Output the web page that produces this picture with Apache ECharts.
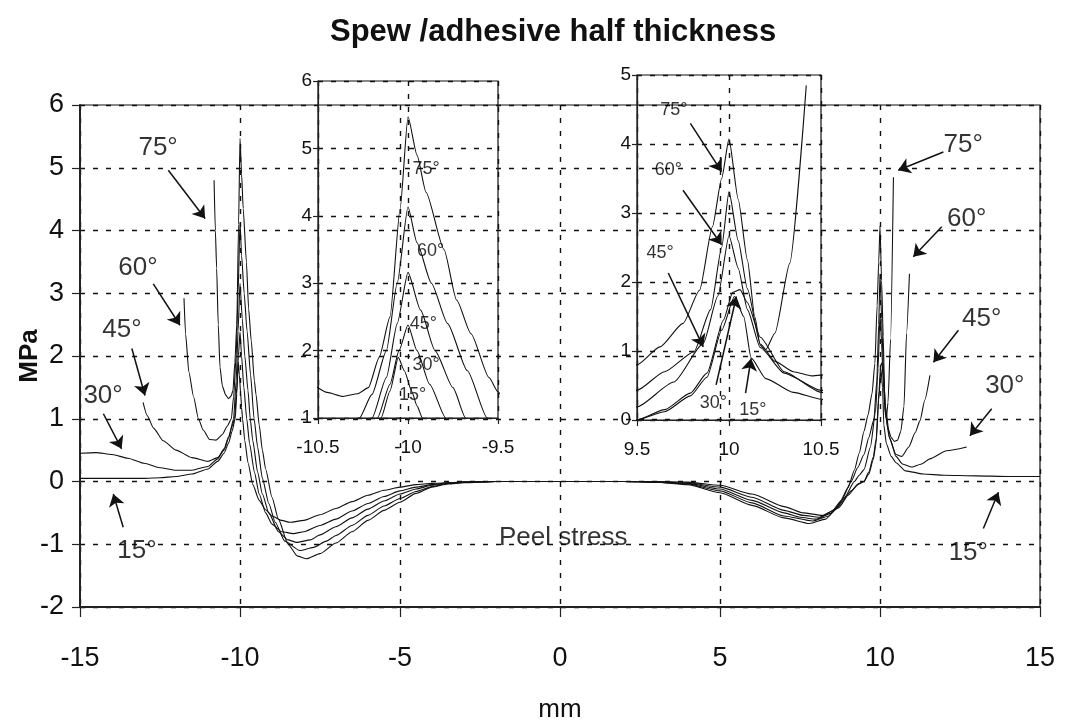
<!DOCTYPE html>
<html>
<head>
<meta charset="utf-8">
<script src="https://cdn.jsdelivr.net/npm/echarts@6/dist/echarts.min.js"></script>
<style>html,body{margin:0;padding:0;background:#fff}#c{width:1066px;height:727px}</style>
</head>
<body>
<div id="c"></div>
<script>
// ---- data (x in mm, y in MPa) ----
const deg15 = [[-15,0.05],[-14,0.05],[-13,0.05],[-12.5,0.06],[-12,0.08],[-11.5,0.12],[-11,0.2],[-10.7,0.32],[-10.5,0.45],[-10.35,0.62],[-10.25,0.8],[-10.15,1.0],[-10.1,1.4],[-10.054,1.9],[-10.02,1.7],[-9.98,1.4],[-9.95,1.18],[-9.92,1.0],[-9.85,0.65],[-9.75,0.3],[-9.6,-0.05],[-9.4,-0.3],[-9.2,-0.45],[-9,-0.55],[-8.7,-0.62],[-8.44,-0.65],[-8,-0.62],[-7.5,-0.53],[-7,-0.43],[-6.5,-0.32],[-6,-0.22],[-5.5,-0.14],[-5,-0.09],[-4.5,-0.05],[-4,-0.03],[-3,-0.01],[-2,0],[-1,0],[0,0],[1,0],[2,0],[3,0],[4,-0.01],[5,-0.06],[6,-0.2],[7,-0.4],[7.6,-0.5],[8.2,-0.54],[8.7,-0.42],[9.1,-0.15],[9.35,-0.03],[9.5,0],[9.65,0.12],[9.79,0.35],[9.88,0.62],[9.96,1.3],[10.03,1.79],[10.08,1.5],[10.12,0.9],[10.2,0.6],[10.35,0.4],[10.5,0.3],[10.8,0.17],[11.35,0.12],[12,0.1],[13,0.09],[14,0.08],[15,0.08]];
const deg30 = [[-15,0.45],[-14.5,0.46],[-14,0.43],[-13.5,0.37],[-13,0.29],[-12.5,0.22],[-12,0.18],[-11.5,0.18],[-11,0.24],[-10.7,0.36],[-10.5,0.52],[-10.35,0.72],[-10.25,0.88],[-10.17,1.0],[-10.1,1.5],[-10.05,2.0],[-10,2.38],[-9.95,2.0],[-9.88,1.5],[-9.79,1.0],[-9.7,0.6],[-9.55,0.15],[-9.4,-0.2],[-9.2,-0.5],[-9,-0.68],[-8.7,-0.8],[-8.33,-0.83],[-8,-0.8],[-7.5,-0.7],[-7,-0.6],[-6.5,-0.47],[-6,-0.35],[-5.5,-0.24],[-5,-0.15],[-4.5,-0.09],[-4,-0.05],[-3.5,-0.02],[-3,-0.01],[-2,0],[-1,0],[0,0],[1,0],[2,0],[3,-0.01],[4,-0.02],[5,-0.09],[6,-0.25],[7,-0.46],[7.6,-0.54],[8.1,-0.57],[8.6,-0.45],[9,-0.22],[9.3,-0.05],[9.5,0],[9.65,0.15],[9.79,0.39],[9.88,0.68],[9.97,1.45],[10.02,1.85],[10.06,1.89],[10.1,1.7],[10.17,1.2],[10.3,0.7],[10.5,0.4],[10.7,0.28],[10.99,0.23],[11.3,0.28],[11.56,0.36],[12.08,0.49],[12.71,0.55]];
const deg45 = [[-13.03,1.26],[-12.9,1.05],[-12.7,0.85],[-12.4,0.65],[-12,0.5],[-11.5,0.38],[-11,0.32],[-10.7,0.38],[-10.5,0.5],[-10.35,0.7],[-10.2,1.0],[-10.12,1.6],[-10.06,2.4],[-10,3.16],[-9.93,2.6],[-9.85,2.0],[-9.75,1.45],[-9.68,1.0],[-9.6,0.65],[-9.45,0.15],[-9.3,-0.2],[-9.1,-0.5],[-8.8,-0.8],[-8.5,-0.93],[-8.23,-0.97],[-7.8,-0.93],[-7.5,-0.85],[-7,-0.72],[-6.5,-0.58],[-6,-0.44],[-5.5,-0.31],[-5,-0.2],[-4.5,-0.12],[-4,-0.06],[-3.5,-0.03],[-3,-0.01],[-2,0],[-1,0],[0,0],[1,0],[2,0],[3,-0.01],[4,-0.03],[5,-0.12],[6,-0.3],[7,-0.5],[7.5,-0.57],[8,-0.6],[8.5,-0.5],[8.9,-0.25],[9.2,0],[9.35,0.1],[9.5,0.19],[9.7,0.55],[9.86,1.11],[9.94,1.8],[10,2.67],[10.05,2.2],[10.1,1.6],[10.17,1.05],[10.3,0.68],[10.5,0.43],[10.68,0.4],[10.9,0.55],[11.1,0.78],[11.25,0.97],[11.4,1.3],[11.56,1.69]];
const deg60 = [[-11.75,2.92],[-11.7,2.35],[-11.6,1.75],[-11.45,1.35],[-11.3,1.0],[-11.15,0.82],[-10.95,0.67],[-10.75,0.66],[-10.55,0.75],[-10.4,0.88],[-10.27,1.0],[-10.2,1.35],[-10.12,2.0],[-10.06,3.0],[-10,4.13],[-9.95,3.6],[-9.87,3.0],[-9.78,2.4],[-9.67,1.7],[-9.56,1.0],[-9.45,0.55],[-9.3,0.05],[-9.1,-0.35],[-8.9,-0.65],[-8.6,-0.95],[-8.13,-1.1],[-7.7,-1.05],[-7.3,-0.95],[-7,-0.86],[-6.5,-0.7],[-6,-0.54],[-5.5,-0.39],[-5,-0.27],[-4.5,-0.16],[-4,-0.08],[-3.5,-0.03],[-3,-0.01],[-2,0],[-1,0],[0,0],[1,0],[2,0],[3,-0.01],[4,-0.04],[5,-0.15],[6,-0.34],[7,-0.55],[7.9,-0.63],[8.4,-0.55],[8.8,-0.3],[9.1,0],[9.3,0.22],[9.5,0.43],[9.65,0.7],[9.81,0.99],[9.9,1.6],[9.96,2.5],[10,3.31],[10.05,2.6],[10.1,1.9],[10.17,1.1],[10.25,0.85],[10.35,0.7],[10.45,0.64],[10.55,0.66],[10.65,0.8],[10.75,1.2],[10.83,2.36],[10.92,3.31]];
const deg75 = [[-10.81,4.8],[-10.77,4.0],[-10.73,3.4],[-10.68,2.5],[-10.625,1.82],[-10.55,1.52],[-10.45,1.38],[-10.36,1.32],[-10.28,1.36],[-10.22,1.45],[-10.16,1.9],[-10.1,2.5],[-10.044,4.1],[-10,5.47],[-9.95,4.9],[-9.9,4.35],[-9.8,3.5],[-9.73,2.75],[-9.65,2.25],[-9.55,1.6],[-9.5,1.39],[-9.4,0.9],[-9.3,0.5],[-9.2,0.2],[-9,-0.25],[-8.8,-0.6],[-8.5,-1.0],[-8.2,-1.19],[-7.92,-1.23],[-7.5,-1.15],[-7,-0.98],[-6.5,-0.8],[-6,-0.62],[-5.5,-0.46],[-5,-0.33],[-4.5,-0.19],[-4,-0.09],[-3.5,-0.04],[-3,-0.02],[-2,0],[-1,0],[0,0],[1,0],[2,0],[3,-0.01],[4,-0.05],[5,-0.18],[6,-0.38],[7,-0.58],[7.8,-0.67],[8.3,-0.6],[8.7,-0.38],[9,-0.1],[9.2,0.18],[9.35,0.45],[9.5,0.8],[9.625,1.06],[9.75,1.4],[9.84,1.88],[9.91,2.8],[9.96,3.5],[10,4.07],[10.05,3.2],[10.1,2.32],[10.14,1.5],[10.17,1.08],[10.2,1.02],[10.25,1.26],[10.33,2.27],[10.42,4.85]];

const curves = [deg15, deg30, deg45, deg60, deg75];
const angleNames = ['15°','30°','45°','60°','75°'];

// axis ranges [min, max, interval]
const mainX = [-15, 15, 5];
const mainY = [-2, 6, 1];
const inset1X = [-10.5, -9.5, 0.5];
const inset1Y = [1, 6, 1];
const inset2X = [9.5, 10.5, 0.5];
const inset2Y = [0, 5, 1];

// annotations: [textX, textY, label], arrows [x1,y1,x2,y2] (data coordinates)
const mainLabels = [[-12.56,5.31,'75°'],[-13.19,3.4,'60°'],[-13.69,2.41,'45°'],[-14.28,1.37,'30°'],[-13.22,-1.1,'15°'],
  [12.6,5.36,'75°'],[12.71,4.19,'60°'],[13.18,2.59,'45°'],[13.9,1.53,'30°'],[12.76,-1.13,'15°'],[0.1,-0.9,'Peel stress']];
const mainArrows = [[-12.24,4.96,-11.09,4.19],[-12.71,3.15,-11.875,2.49],[-13.38,2.12,-12.97,1.37],[-14.27,1.08,-13.7,0.52],[-13.65,-0.73,-13.96,-0.2],
  [11.98,5.25,10.57,4.96],[11.93,4.06,11.04,3.58],[12.45,2.41,11.67,1.9],[13.49,1.16,12.81,0.73],[13.23,-0.75,13.7,-0.17]];
const inset1Labels = [[-9.9,4.7,'75°'],[-9.875,3.47,'60°'],[-9.915,2.4,'45°'],[-9.9,1.79,'30°'],[-9.975,1.34,'15°']];
const inset2Labels = [[9.7,4.49,'75°'],[9.67,3.62,'60°'],[9.625,2.42,'45°'],[9.915,0.24,'30°'],[10.13,0.14,'15°']];
const inset2Arrows = [[9.79,4.3,9.96,3.6],[9.75,3.33,9.96,2.54],[9.67,2.13,9.86,1.06],[9.93,0.51,10.04,1.79],[10.09,0.39,10.12,0.89]];

const F = "'Liberation Sans Narrow','Arial Narrow','Liberation Sans',Arial,sans-serif";
const dash = {type:[5,8], color:'#111', width:1.4};

function xAx(g, r, opts){
  return Object.assign({
    gridIndex:g, type:'value', min:r[0], max:r[1], interval:r[2],
    axisLine:{show:true, onZero:false, lineStyle:{color:'#222', width:g===0?2:1.2}},
    axisTick:{show:true, length:g===0?10:6, lineStyle:{color:'#222', width:1.2}},
    axisLabel:{fontFamily:F, color:'#111', fontSize:g===0?27:19, margin:g===0?38:20, showMinLabel:true, showMaxLabel:true},
    splitLine:{show:true, lineStyle:dash}
  }, opts||{});
}
function yAx(g, r, opts){
  return Object.assign({
    gridIndex:g, type:'value', min:r[0], max:r[1], interval:r[2],
    axisLine:{show:true, onZero:false, lineStyle:{color:'#222', width:g===0?2:1.2}},
    axisTick:{show:true, length:g===0?8:5, lineStyle:{color:'#222', width:1.2}},
    axisLabel:{fontFamily:F, color:'#111', fontSize:g===0?27:19, margin:g===0?16:6},
    splitLine:{show:true, lineStyle:dash}
  }, opts||{});
}

const series = [];
[0,1,2].forEach(g=>{
  curves.forEach((c,i)=>{
    series.push({type:'line', name:angleNames[i], xAxisIndex:g, yAxisIndex:g, data:c,
      symbol:'none', showSymbol:false, smooth:0.2, smoothMonotone:'x', clip:true, silent:true,
      lineStyle:{color:'#111', width:1.1}, animation:false});
  });
});
function labelSeries(g, labels, arrows, fs){
  const s = {type:'scatter', xAxisIndex:g, yAxisIndex:g, symbolSize:1, silent:true, animation:false,
    itemStyle:{color:'transparent'},
    data:labels.map(l=>({value:[l[0],l[1]], name:l[2]})),
    label:{show:true, position:'inside', formatter:'{b}', fontFamily:F, fontSize:fs, color:'#000', textBorderWidth:0}};
  if(arrows){
    s.markLine = {silent:true, animation:false, symbol:['none','arrow'], symbolSize:12,
      lineStyle:{color:'#111', width:1.5, type:'solid'}, label:{show:false},
      data:arrows.map(a=>[{coord:[a[0],a[1]]},{coord:[a[2],a[3]]}])};
  }
  return s;
}
series.push(labelSeries(0, mainLabels, mainArrows, 26));
series.push(labelSeries(1, inset1Labels, null, 18));
series.push(labelSeries(2, inset2Labels, inset2Arrows, 18));

const gridBase = {show:true, borderColor:'#111', borderWidth:1.2, backgroundColor:'transparent', containLabel:false, outerBoundsMode:'none'};
const chart = echarts.init(document.getElementById('c'));
chart.setOption({
  animation:false,
  backgroundColor:'#fff',
  title:{text:'Spew /adhesive half thickness', left:325, top:12,
    textStyle:{fontFamily:F, fontSize:31, fontWeight:'bold', color:'#111'}},
  grid:[
    Object.assign({left:80, top:105, width:960, height:502}, gridBase),
    Object.assign({left:318, top:81, width:180, height:337}, gridBase),
    Object.assign({left:637, top:75, width:184, height:345}, gridBase)
  ],
  xAxis:[
    xAx(0, mainX, {name:'mm', nameLocation:'middle', nameGap:90, nameMoveOverlap:false, nameTextStyle:{fontFamily:F, fontSize:26, color:'#111'}}),
    xAx(1, inset1X),
    xAx(2, inset2X)
  ],
  yAxis:[
    yAx(0, mainY, {name:'MPa', nameLocation:'middle', nameGap:37, nameMoveOverlap:false, nameTextStyle:{fontFamily:F, fontSize:26, fontWeight:'bold', color:'#111'}}),
    yAx(1, inset1Y),
    yAx(2, inset2Y)
  ],
  series:series
});
</script>
</body>
</html>
